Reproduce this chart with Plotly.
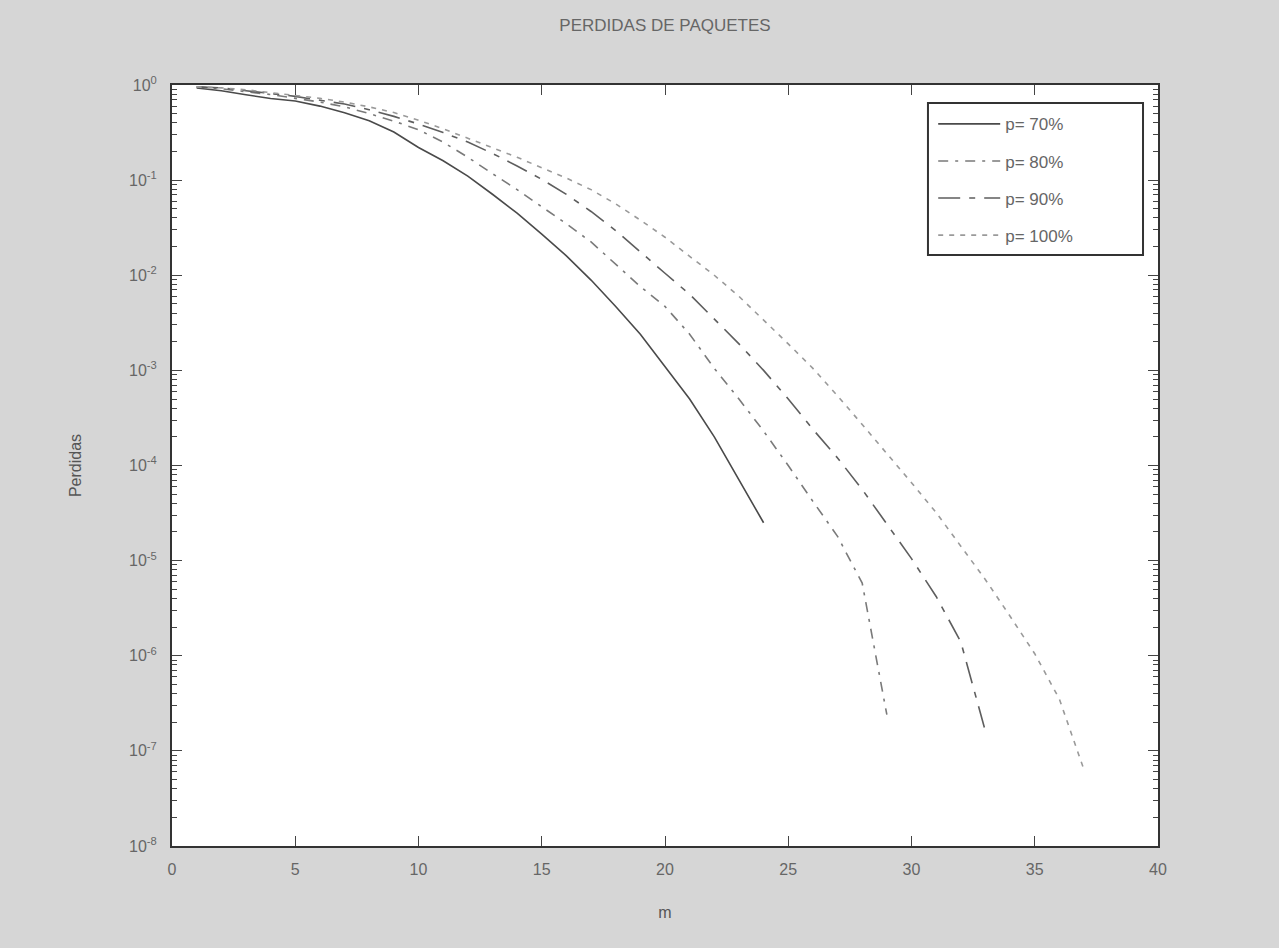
import plotly.graph_objects as go

# ---- data ----
m70 = list(range(1, 25))
p70 = [0.93, 0.87, 0.79, 0.72, 0.68, 0.60, 0.51, 0.42, 0.32, 0.22, 0.16, 0.11,
       7.1e-2, 4.5e-2, 2.7e-2, 1.6e-2, 8.9e-3, 4.7e-3, 2.4e-3, 1.1e-3, 5.0e-4,
       2.0e-4, 7.1e-5, 2.5e-5]

m80 = list(range(1, 30))
p80 = [0.955, 0.912, 0.851, 0.794, 0.724, 0.661, 0.589, 0.501, 0.417, 0.339,
       0.251, 0.174, 0.117, 7.94e-2, 5.25e-2, 3.47e-2, 2.24e-2, 1.32e-2, 7.6e-3,
       4.7e-3, 2.4e-3, 1.05e-3, 5.0e-4, 2.3e-4, 1.0e-4, 4.2e-5, 1.8e-5, 5.8e-6,
       2.4e-7]

m90 = list(range(1, 34))
p90 = [0.955, 0.933, 0.871, 0.813, 0.759, 0.692, 0.631, 0.550, 0.468, 0.389,
       0.316, 0.251, 0.191, 0.141, 0.102, 7.08e-2, 4.68e-2, 2.95e-2, 1.78e-2,
       1.05e-2, 6.3e-3, 3.5e-3, 1.9e-3, 1.0e-3, 5.0e-4, 2.4e-4, 1.2e-4, 5.6e-5,
       2.4e-5, 1.05e-5, 4.2e-6, 1.4e-6, 1.6e-7]

m100 = list(range(1, 38))
p100 = [0.955, 0.933, 0.891, 0.832, 0.776, 0.724, 0.661, 0.589, 0.513, 0.427,
        0.347, 0.275, 0.219, 0.174, 0.135, 0.105, 7.94e-2, 5.62e-2, 3.80e-2,
        2.51e-2, 1.58e-2, 1.0e-2, 6.0e-3, 3.4e-3, 1.9e-3, 1.05e-3, 5.4e-4,
        2.7e-4, 1.35e-4, 6.6e-5, 3.2e-5, 1.4e-5, 6.3e-6, 2.6e-6, 1.05e-6,
        3.5e-7, 6.3e-8]

series_names = ["p= 70%", "p= 80%", "p= 90%", "p= 100%"]
ytick_vals = [1, 1e-1, 1e-2, 1e-3, 1e-4, 1e-5, 1e-6, 1e-7, 1e-8]
ytick_text = ["10<sup>0</sup>", "10<sup>-1</sup>", "10<sup>-2</sup>", "10<sup>-3</sup>",
              "10<sup>-4</sup>", "10<sup>-5</sup>", "10<sup>-6</sup>", "10<sup>-7</sup>",
              "10<sup>-8</sup>"]
xtick_vals = [0, 5, 10, 15, 20, 25, 30, 35, 40]

styles = [
    dict(color="#4a4a4a", dash="solid", width=1.6),
    dict(color="#7a7a7a", dash="10px,7px,3px,7px", width=1.6),
    dict(color="#5e5e5e", dash="22px,9px,6px,9px", width=1.6),
    dict(color="#9a9a9a", dash="5px,6px", width=1.6),
]

fig = go.Figure()
for i, (mx, py) in enumerate([(m70, p70), (m80, p80), (m90, p90), (m100, p100)]):
    fig.add_trace(go.Scatter(x=mx, y=py, mode="lines", name=series_names[i],
                             line=styles[i], legendgroup=f"g{i}"))

# legend frame (drawn as a shape so its size matches the original box)
fig.add_shape(type="rect", xref="paper", yref="paper", layer="above",
              x0=0.7667, x1=0.9848, y0=0.7766, y1=0.9763,
              fillcolor="white", line=dict(color="#333333", width=2))

font_fam = "Liberation Sans, Arial, sans-serif"
fig.update_layout(
    width=1279, height=948,
    paper_bgcolor="#d6d6d6", plot_bgcolor="white",
    margin=dict(l=172, r=121, t=85, b=102),
    font=dict(family=font_fam, color="#555555", size=15),
    title=dict(text="PERDIDAS DE PAQUETES", x=0.5, xref="paper", xanchor="center",
               y=1 - 25 / 948, yref="container", yanchor="middle",
               font=dict(size=17, color="#666666")),
    showlegend=True,
    legend=dict(x=0.772, y=0.972, xanchor="left", yanchor="top",
                bgcolor="rgba(0,0,0,0)", borderwidth=0,
                font=dict(size=17, color="#666666"), tracegroupgap=12,
                traceorder="grouped", itemwidth=62),
    xaxis=dict(range=[0, 40], tickvals=xtick_vals, ticks="inside", ticklen=10,
               tickcolor="#444444", showline=True, linecolor="#333333", linewidth=2,
               mirror="allticks", showgrid=False, zeroline=False,
               ticklabelstandoff=8,
               title=dict(text="m", standoff=30, font=dict(size=16)),
               tickfont=dict(size=16, color="#666666")),
    yaxis=dict(type="log", range=[-8, 0], tickvals=ytick_vals, ticktext=ytick_text,
               ticks="inside", ticklen=10, tickcolor="#444444", showline=True,
               linecolor="#333333", linewidth=2, mirror="allticks", showgrid=False,
               zeroline=False, ticklabelstandoff=10,
               minor=dict(ticks="inside", ticklen=5, tickcolor="#444444", dtick="D1",
                          showgrid=False),
               title=dict(text="Perdidas", standoff=43, font=dict(size=16)),
               tickfont=dict(size=16, color="#666666")),
)

fig.write_html("out.html")
